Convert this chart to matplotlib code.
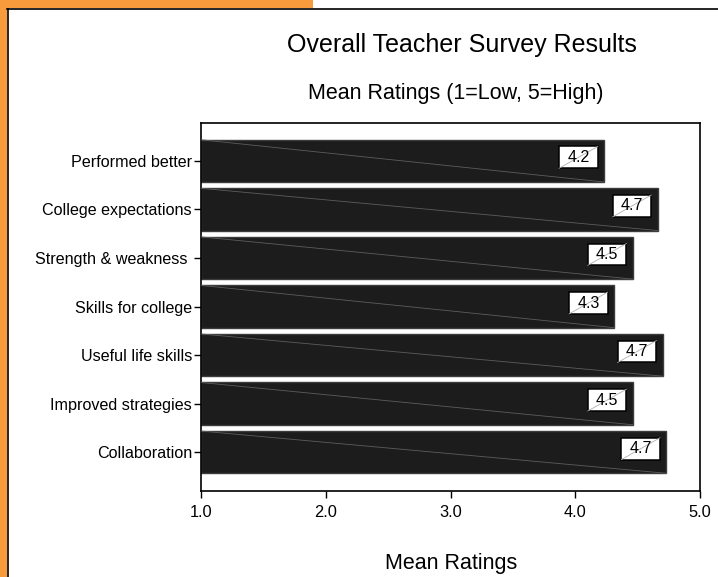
import matplotlib.pyplot as plt
from matplotlib.patches import Rectangle

plt.rcParams['font.family'] = ['Liberation Sans', 'DejaVu Sans']

# data, top to bottom as in the chart
kategorie = ['Performed better', 'College expectations', 'Strength & weakness ',
             'Skills for college', 'Useful life skills', 'Improved strategies',
             'Collaboration']
srednie = [4.23, 4.66, 4.46, 4.31, 4.70, 4.46, 4.73]
etykiety = ['4.2', '4.7', '4.5', '4.3', '4.7', '4.5', '4.7']
xticki = [1.0, 2.0, 3.0, 4.0, 5.0]

fig = plt.figure(figsize=(7.18, 5.77), dpi=100)
fig.patch.set_facecolor('white')

# orange frame like in the original
pomar = '#F89B3C'
fig.patches.append(Rectangle((0, 0), 7/718, 1, transform=fig.transFigure,
                             facecolor=pomar, edgecolor='none', zorder=0))
fig.patches.append(Rectangle((0, 1-8/577), 313/718, 8/577, transform=fig.transFigure,
                             facecolor=pomar, edgecolor='none', zorder=0))
fig.add_artist(plt.Line2D([7/718, 1], [1-8.5/577, 1-8.5/577], transform=fig.transFigure,
                          color='black', lw=1.2))
fig.add_artist(plt.Line2D([7.5/718, 7.5/718], [0, 1-8.5/577], transform=fig.transFigure,
                          color='black', lw=1.2))

ax = fig.add_axes([201/718, 1-491/577, 499/718, 368/577])

y = list(range(len(kategorie)))
wys = 0.87
ax.barh(y, [v - 1 for v in srednie], left=1, height=wys,
        color='#1c1c1c', edgecolor='#3c3c3c', linewidth=1, zorder=2)

for i, (v, t) in enumerate(zip(srednie, etykiety)):
    # faint diagonal across the bar
    ax.plot([1, v], [i - wys/2, i + wys/2], color='#5c5c5c', lw=0.6, zorder=3)
    # value box
    x0, x1 = v - 0.36, v - 0.05
    y0, y1 = i - 0.072 - 0.225, i - 0.072 + 0.225
    ax.add_patch(Rectangle((x0, y0), x1 - x0, y1 - y0, facecolor='white',
                           edgecolor='black', lw=1.1, zorder=4))
    ax.plot([x0, x1], [y1, y0], color='#b0b0b0', lw=0.6, zorder=5)
    ax.text((x0 + x1)/2, i - 0.072, t, ha='center', va='center', fontsize=11.5, zorder=6)

ax.set_xlim(1, 5)
ax.set_ylim(len(kategorie) - 0.2, -0.78)
ax.set_xticks(xticki)
ax.set_xticklabels([f'{x:.1f}' for x in xticki], fontsize=11.8)
ax.set_yticks(y)
ax.set_yticklabels(kategorie, fontsize=11.6)
ax.tick_params(axis='both', direction='out', length=5, width=1, color='black')
ax.tick_params(axis='x', pad=5)
ax.tick_params(axis='y', pad=1.5)
for s in ax.spines.values():
    s.set_linewidth(1.2)
    s.set_color('black')

fig.text(462/718, 1-45/577, 'Overall Teacher Survey Results', ha='center', va='center', fontsize=18)
fig.text(456/718, 1-94/577, 'Mean Ratings (1=Low, 5=High)', ha='center', va='center', fontsize=15.5)
fig.text(451/718, 1-564/577, 'Mean Ratings', ha='center', va='center', fontsize=15.5)

fig.savefig('out.png', dpi=100)
